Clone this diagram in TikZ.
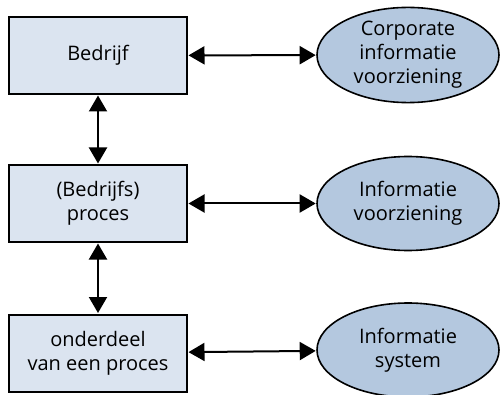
\documentclass[tikz,border=0pt]{standalone}
\usepackage{fontspec}
\setmainfont{Open Sans}
\usetikzlibrary{shapes.geometric,arrows.meta}
\definecolor{boxfill}{RGB}{219,228,240}
\definecolor{ellfill}{RGB}{180,200,223}
\tikzset{
  boxnode/.style={draw=black, line width=2pt, fill=boxfill, minimum width=178pt, minimum height=77pt, inner sep=0pt, align=center, font=\fontsize{20}{24}\selectfont},
  ellnode/.style={ellipse, draw=black, line width=1.6pt, fill=ellfill, minimum width=182pt, minimum height=94pt, inner sep=0pt, align=center, font=\fontsize{20}{24}\selectfont},
  conn/.style={line width=2pt, {Triangle[length=16pt,width=18pt]}-{Triangle[length=16pt,width=18pt]}, shorten <=0.5pt, shorten >=0.5pt}
}
\begin{document}
\begin{tikzpicture}[x=1pt,y=-1pt]
\useasboundingbox (0,0) rectangle (500,395);
\node[boxnode] (b1) at (98,55.5) {Bedrijf};
\node[boxnode] (b2) at (98,203.5) {(Bedrijfs)\\proces};
\node[boxnode] (b3) at (98,353) {onderdeel\\van een proces};
\node[ellnode] (e1) at (408,55) {Corporate\\informatie\\voorziening};
\node[ellnode] (e2) at (408,203.5) {Informatie\\voorziening};
\node[ellnode] (e3) at (408,350) {Informatie\\system};
\draw[conn] (b1) -- (e1);
\draw[conn] (b2) -- (e2);
\draw[conn] (b3) -- (e3);
\draw[conn] (b1) -- (b2);
\draw[conn] (b2) -- (b3);
\end{tikzpicture}
\end{document}
